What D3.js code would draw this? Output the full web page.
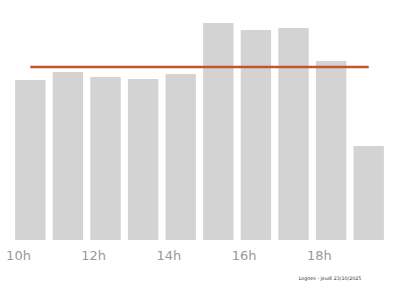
<!doctype html>
<html>
<head>
<meta charset="utf-8"/>
<title>Fréquentation par heure</title>
<script src="https://d3js.org/d3.v7.min.js"></script>
<style>
body { margin: 0; background: #fff; }
</style>
</head>
<body>
<svg id="svg1"></svg>
<script>
// hourly values
const hours = [10, 11, 12, 13, 14, 15, 16, 17, 18, 19];
const values = [160, 168, 163, 161, 166, 217, 210, 212, 179, 94];
const tick_hours = [10, 12, 14, 16, 18];
const footnote = 'Lognes - jeudi 23/10/2025';

const width = 400, height = 286;
const base_y = 240;

const svg = d3.select('#svg1')
    .attr('width', width)
    .attr('height', height);

const x = d3.scaleLinear().domain([10, 20]).range([11.5, 387.5]);
const y = d3.scaleLinear().domain([0, 217]).range([base_y, 23]);

const pad = 3.6;
svg.selectAll('rect.bar')
    .data(hours)
    .enter().append('rect')
    .attr('class', 'bar')
    .attr('x', h => x(h) + pad)
    .attr('width', h => x(h + 1) - x(h) - 2 * pad)
    .attr('y', (h, i) => y(values[i]))
    .attr('height', (h, i) => base_y - y(values[i]))
    .style('fill', '#d3d3d3');

// mean line, from first bar centre to last bar centre
const mean = d3.mean(values);
svg.append('line')
    .attr('x1', x(hours[0] + 0.5))
    .attr('x2', x(hours[hours.length - 1] + 0.5))
    .attr('y1', y(mean))
    .attr('y2', y(mean))
    .style('stroke', '#c1552b')
    .style('stroke-width', 2.6);

svg.selectAll('text.tick')
    .data(tick_hours)
    .enter().append('text')
    .attr('class', 'tick')
    .attr('x', h => x(h) + 7)
    .attr('y', 260)
    .attr('text-anchor', 'middle')
    .style('font-family', 'DejaVu Sans, sans-serif')
    .style('font-size', '13px')
    .style('fill', '#999')
    .text(h => h + 'h');

svg.append('text')
    .attr('x', 330)
    .attr('y', 279.5)
    .attr('text-anchor', 'middle')
    .style('font-family', 'DejaVu Sans, sans-serif')
    .style('font-size', '4.8px')
    .style('fill', '#333')
    .text(footnote);
</script>
</body>
</html>
